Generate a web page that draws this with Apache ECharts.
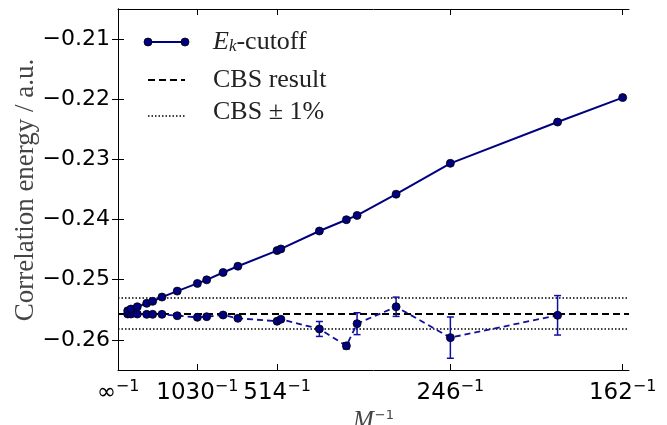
<!DOCTYPE html>
<html>
<head>
<meta charset="utf-8">
<script src="https://cdn.jsdelivr.net/npm/echarts@6/dist/echarts.min.js"></script>
<style>
  html, body { margin: 0; padding: 0; background: #fff; }
  #main { width: 667px; height: 425px; }
</style>
</head>
<body>
<div id="main"></div>
<script>
// basis sizes M (x = 1/M)
const mUpper = [8430, 6290, 4240, 2850, 2360, 1860, 1380, 1030, 922, 778, 682, 514, 502, 406, 358, 342, 294, 246, 186, 162];
const eUpper = [-0.25515, -0.25487, -0.25449, -0.25392, -0.25359, -0.25288, -0.25189, -0.25061, -0.25002, -0.24879,
  -0.24775, -0.24515, -0.24488, -0.24190, -0.24002, -0.23931, -0.23578, -0.23065, -0.22379, -0.21972];

const mLower = [8430, 6290, 4240, 2850, 2360, 1860, 1380, 1030, 922, 778, 682, 514, 502, 406, 358, 342, 294, 246, 186];
const eLower = [-0.25570, -0.25570, -0.25570, -0.25575, -0.25575, -0.25575, -0.25598, -0.25624, -0.25614, -0.25586,
  -0.25641, -0.25690, -0.25657, -0.25818, -0.26099, -0.25730, -0.25449, -0.25962, -0.25591];
const errLower = [0, 0, 0, 0, 0, 0, 0, 0, 0, 0, 0, 0, 0, 0.00124, 0.0005, 0.00182, 0.0016, 0.00343, 0.00328];

const cbs = -0.2556;
const xTickM = [Infinity, 1030, 514, 246, 162];
const xTickText = ['∞', '1030', '514', '246', '162'];
const yTicks = [-0.26, -0.25, -0.24, -0.23, -0.22, -0.21];

const xMax = 1 / 160;
const xTicks = xTickM.map(m => 1 / m);
const navy = '#000080';

const chart = echarts.init(document.getElementById('main'));

const upperData = mUpper.map((m, i) => [1 / m, eUpper[i]]);
const lowerData = mLower.map((m, i) => [1 / m, eLower[i]]);
const errData = mLower.map((m, i) => [1 / m, eLower[i], errLower[i]]);

function xLabel(v) {
  let best = 0;
  xTicks.forEach((t, i) => { if (Math.abs(t - v) < Math.abs(xTicks[best] - v)) best = i; });
  return '{b|' + xTickText[best] + '}{s|−1}';
}

const tickFont = { fontFamily: 'DejaVu Sans', color: '#000' };
const serif = 'Liberation Serif';

chart.setOption({
  backgroundColor: '#fff',
  animation: false,
  grid: { left: 118, right: 38, top: 9, bottom: 55, outerBoundsMode: 'none', containLabel: false },
  xAxis: [{
    type: 'value', min: 0, max: xMax,
    name: '{m|M}{s|−1}', nameLocation: 'middle', nameGap: 38,
    nameTextStyle: {
      rich: {
        m: { fontFamily: serif, fontStyle: 'italic', fontSize: 25, color: '#444' },
        s: { fontFamily: 'DejaVu Sans', fontSize: 13, color: '#444', verticalAlign: 'top', padding: [0, 0, 9, 1] }
      }
    },
    axisLine: { show: true, lineStyle: { color: '#000', width: 1 } },
    axisTick: { show: true, inside: true, length: 6, customValues: xTicks, lineStyle: { color: '#000' } },
    axisLabel: {
      customValues: xTicks, margin: 9, formatter: xLabel,
      rich: {
        b: Object.assign({ fontSize: 23 }, tickFont),
        s: Object.assign({ fontSize: 16, verticalAlign: 'top', padding: [0, 0, 12, 0] }, tickFont)
      }
    },
    splitLine: { show: false }
  }, {
    type: 'value', min: 0, max: xMax, position: 'top',
    axisLine: { show: true, lineStyle: { color: '#000', width: 1 } },
    axisTick: { show: true, inside: true, length: 6, customValues: xTicks, lineStyle: { color: '#000' } },
    axisLabel: { show: false },
    splitLine: { show: false }
  }],
  yAxis: [{
    type: 'value', min: -0.265, max: -0.205,
    axisLine: { show: true, lineStyle: { color: '#000', width: 1 } },
    axisTick: { show: true, inside: true, length: 6, customValues: yTicks, lineStyle: { color: '#000' } },
    axisLabel: {
      customValues: yTicks, margin: 8, fontSize: 22, fontFamily: 'DejaVu Sans', color: '#000',
      formatter: v => '−' + Math.abs(v).toFixed(2)
    },
    splitLine: { show: false }
  }, {
    type: 'value', min: -0.265, max: -0.205, position: 'right',
    axisLine: { show: true, lineStyle: { color: '#000', width: 1 } },
    axisTick: { show: true, inside: true, length: 6, customValues: yTicks, lineStyle: { color: '#000' } },
    axisLabel: { show: false },
    splitLine: { show: false }
  }],
  series: [{
    type: 'custom', z: 2,
    renderItem: (params, api) => {
      const e = api.value(2);
      if (!e) return;
      const x = api.value(0), y = api.value(1);
      const top = api.coord([x, y + e]);
      const bot = api.coord([x, y - e]);
      const st = { stroke: '#1010a0', lineWidth: 1.5 };
      return {
        type: 'group',
        children: [
          { type: 'line', shape: { x1: top[0], y1: top[1], x2: bot[0], y2: bot[1] }, style: st },
          { type: 'line', shape: { x1: top[0] - 3.5, y1: top[1], x2: top[0] + 3.5, y2: top[1] }, style: st },
          { type: 'line', shape: { x1: bot[0] - 3.5, y1: bot[1], x2: bot[0] + 3.5, y2: bot[1] }, style: st }
        ]
      };
    },
    encode: { x: 0, y: 1 },
    data: errData
  }, {
    type: 'line', z: 3, data: lowerData,
    symbol: 'circle', symbolSize: 8,
    lineStyle: { color: '#1010a0', width: 1.8, type: [6, 4] },
    itemStyle: { color: navy, borderColor: '#000', borderWidth: 0.8 },
    markLine: {
      silent: true, symbol: 'none', label: { show: false }, precision: 6, z: 1,
      data: [
        { yAxis: cbs, lineStyle: { color: '#000', type: [7, 4], width: 2 } },
        { yAxis: cbs * 0.99, lineStyle: { color: '#000', type: [1.5, 2], width: 1.5 } },
        { yAxis: cbs * 1.01, lineStyle: { color: '#000', type: [1.5, 2], width: 1.5 } }
      ]
    }
  }, {
    type: 'line', z: 4, data: upperData,
    symbol: 'circle', symbolSize: 8,
    lineStyle: { color: navy, width: 2 },
    itemStyle: { color: navy, borderColor: '#000', borderWidth: 0.8 }
  }],
  graphic: [
    {
      type: 'text', x: 26, y: 190, rotation: Math.PI / 2,
      style: { text: 'Correlation energy / a.u.', align: 'center', verticalAlign: 'middle', fontFamily: serif, fontSize: 27, fill: '#444' }
    },
    { type: 'line', shape: { x1: 148, y1: 42, x2: 185, y2: 42 }, style: { stroke: navy, lineWidth: 2 } },
    { type: 'circle', shape: { cx: 148, cy: 42, r: 4 }, style: { fill: navy, stroke: '#000', lineWidth: 0.8 } },
    { type: 'circle', shape: { cx: 185, cy: 42, r: 4 }, style: { fill: navy, stroke: '#000', lineWidth: 0.8 } },
    {
      type: 'text', x: 213, y: 42,
      style: {
        text: '{e|E}{k|k}{r|-cutoff}', verticalAlign: 'middle',
        rich: {
          e: { fontFamily: serif, fontStyle: 'italic', fontSize: 26, fill: '#222' },
          k: { fontFamily: serif, fontStyle: 'italic', fontSize: 17, fill: '#222', verticalAlign: 'bottom', padding: [6, 0, 0, 0] },
          r: { fontFamily: serif, fontSize: 26, fill: '#222' }
        }
      }
    },
    { type: 'line', shape: { x1: 148, y1: 80, x2: 185, y2: 80 }, style: { stroke: '#000', lineWidth: 2, lineDash: [7, 4] } },
    { type: 'text', x: 213, y: 80, style: { text: 'CBS result', verticalAlign: 'middle', fontFamily: serif, fontSize: 26, fill: '#222' } },
    { type: 'line', shape: { x1: 148, y1: 116, x2: 185, y2: 116 }, style: { stroke: '#000', lineWidth: 1.5, lineDash: [1.5, 2] } },
    { type: 'text', x: 213, y: 112, style: { text: 'CBS ± 1%', verticalAlign: 'middle', fontFamily: serif, fontSize: 26, fill: '#222' } }
  ]
});
</script>
</body>
</html>
